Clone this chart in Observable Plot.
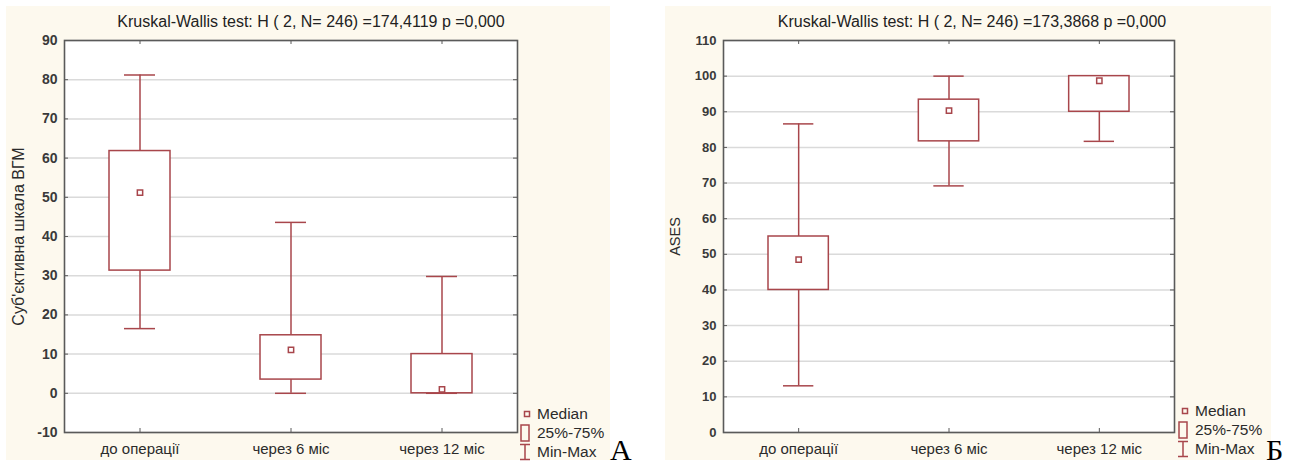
<!DOCTYPE html>
<html><head><meta charset="utf-8">
<script src="https://cdn.jsdelivr.net/npm/d3@7"></script>
<script src="https://cdn.jsdelivr.net/npm/@observablehq/plot@0.6"></script>
<style>
html,body{margin:0;padding:0;background:#fff;width:1300px;height:464px;overflow:hidden;font-family:"Liberation Sans",Arial,sans-serif;}
.bg{position:absolute;background:#fdf9ee;}
.title{position:absolute;font-size:16px;line-height:18px;color:#222;white-space:nowrap;transform:translateX(-50%);}
.leg{position:absolute;font-size:15.5px;line-height:18px;color:#2b2b2b;white-space:nowrap;}
.letter{position:absolute;font-family:"Liberation Serif","DejaVu Serif",serif;font-size:30px;line-height:29px;color:#000;}
</style></head><body>
<div id="root"></div>
<script>
const categories = ["до операції", "через 6 міс", "через 12 міс"];

// Panel А: subjective scale
const minA    = [16.5, 0,    0];
const q1A     = [31.3, 3.5,  0];
const medianA = [51.2, 11.1, 1.0];
const q3A     = [61.8, 14.8, 10];
const maxA    = [81.2, 43.6, 29.8];
const yTicksA = [-10, 0, 10, 20, 30, 40, 50, 60, 70, 80, 90];
const titleA  = "Kruskal-Wallis test: H ( 2, N= 246) =174,4119 p =0,000";
const yLabelA = "Суб'єктивна шкала ВГМ";

// Panel Б: ASES
const minB    = [13.1, 69.2, 81.7];
const q1B     = [40.0, 81.7, 90];
const medianB = [48.5, 90.3, 98.7];
const q3B     = [55.0, 93.4, 100];
const maxB    = [86.6, 100,  100];
const yTicksB = [0, 10, 20, 30, 40, 50, 60, 70, 80, 90, 100, 110];
const titleB  = "Kruskal-Wallis test: H ( 2, N= 246) =173,3868 p =0,000";
const yLabelB = "ASES";

const legendLabels = ["Median", "25%-75%", "Min-Max"];

const RED = "#a8464b";
const root = document.getElementById("root");

function el(cls, style, text) {
  const d = document.createElement("div");
  d.className = cls;
  Object.assign(d.style, style);
  if (text != null) d.textContent = text;
  root.appendChild(d);
  return d;
}

function panel(cfg) {
  el("bg", {left: cfg.bg[0] + "px", top: cfg.bg[1] + "px", width: cfg.bg[2] + "px", height: cfg.bg[3] + "px"});
  const rows = categories.map((c, i) => ({cat: c, min: cfg.min[i], q1: cfg.q1[i], median: cfg.median[i], q3: cfg.q3[i], max: cfg.max[i]}));
  const W = cfg.width - cfg.ml - cfg.mr;
  const H = 464 - cfg.mt - cfg.mb;
  const chart = Plot.plot({
    width: cfg.width, height: 464,
    marginLeft: cfg.ml, marginRight: cfg.mr, marginTop: cfg.mt, marginBottom: cfg.mb,
    style: {background: "transparent", fontFamily: "'Liberation Sans', Arial, sans-serif", overflow: "visible"},
    x: {type: "band", domain: categories, padding: 0, round: false},
    y: {domain: cfg.domain},
    marks: [
      Plot.frame({fill: "white", stroke: "none"}),
      Plot.gridY(cfg.ticks, {stroke: "#dadada", strokeOpacity: 1, strokeWidth: 1.5}),
      Plot.ruleX(rows, {x: "cat", y1: "q3", y2: "max", stroke: RED, strokeWidth: 1.5}),
      Plot.ruleX(rows, {x: "cat", y1: "min", y2: "q1", stroke: RED, strokeWidth: 1.5}),
      Plot.tickY(rows, {x: "cat", y: "max", stroke: RED, strokeWidth: 1.5, insetLeft: 60, insetRight: 60}),
      Plot.tickY(rows, {x: "cat", y: "min", stroke: RED, strokeWidth: 1.5, insetLeft: 60, insetRight: 60}),
      Plot.barY(rows, {x: "cat", y1: "q1", y2: "q3", fill: "white", stroke: RED, strokeWidth: 1.5, insetLeft: 45, insetRight: 45}),
      Plot.dot(rows, {x: "cat", y: "median", symbol: "square", r: 3, stroke: RED, fill: "white", strokeWidth: 1.5}),
      Plot.frame({stroke: "#5a5a5a", strokeWidth: 1.6}),
      Plot.tickY(cfg.ticks, {y: d => d, stroke: "#5a5a5a", insetRight: W - 4}),
      Plot.tickY(cfg.ticks, {y: d => d, stroke: "#5a5a5a", insetLeft: W - 4}),
      Plot.tickX(categories, {x: d => d, stroke: "#5a5a5a", insetBottom: H - 4}),
      Plot.tickX(categories, {x: d => d, stroke: "#5a5a5a", insetTop: H - 4}),
      Plot.axisY(cfg.ticks, {tickSize: 0, tickPadding: 7, tickFormat: d => String(d), fontSize: cfg.yfs, fontWeight: "bold", fill: "#3a3a3a", label: null}),
      Plot.axisX({tickSize: 0, tickPadding: 11, fontSize: 15, fill: "#2b2b2b", label: null}),
      Plot.text([cfg.ylabel], {frameAnchor: "left", textAnchor: "middle", rotate: -90, dx: cfg.ylx, fontSize: cfg.ylfs, fill: "#2b2b2b"})
    ]
  });
  chart.style.position = "absolute";
  chart.style.left = cfg.left + "px";
  chart.style.top = "0px";
  root.appendChild(chart);

  el("title", {left: cfg.titleX + "px", top: "13px"}, cfg.title);

  // legend
  const lx = cfg.legX, ly = cfg.legY;
  const icons = [
    `<svg width="14" height="18" style="position:absolute;left:0;top:0"><rect x="4.5" y="6.5" width="5" height="5" fill="none" stroke="${RED}" stroke-width="1.5"/></svg>`,
    `<svg width="14" height="18" style="position:absolute;left:0;top:0"><rect x="1" y="1" width="8" height="16" fill="none" stroke="${RED}" stroke-width="1.5"/></svg>`,
    `<svg width="14" height="18" style="position:absolute;left:0;top:0"><path d="M0,1.5H10M5,1.5V16.5M0,16.5H10" fill="none" stroke="${RED}" stroke-width="1.5"/></svg>`
  ];
  legendLabels.forEach((lab, i) => {
    const row = el("leg", {left: lx + "px", top: (ly + i * 19) + "px", width: "100px", height: "18px"});
    row.innerHTML = icons[i] + `<span style="position:absolute;left:17px;top:0">${lab}</span>`;
  });
  el("letter", {left: cfg.letterX + "px", top: "435px"}, cfg.letter);
}

panel({
  bg: [6, 6, 604, 454], left: 0, width: 620, ml: 64, mr: 103, mt: 40, mb: 32,
  domain: [-10, 90], ticks: yTicksA, min: minA, q1: q1A, median: medianA, q3: q3A, max: maxA,
  ylabel: yLabelA, ylx: -46, ylfs: 16, yfs: 14, title: titleA, titleX: 311,
  legX: 520, legY: 405, letter: "А", letterX: 610
});
panel({
  bg: [665, 6, 606, 454], left: 650, width: 620, ml: 73, mr: 96, mt: 40, mb: 32,
  domain: [0, 110], ticks: yTicksB, min: minB, q1: q1B, median: medianB, q3: q3B, max: maxB,
  ylabel: yLabelB, ylx: -48, ylfs: 14.5, yfs: 13, title: titleB, titleX: 972,
  legX: 1178, legY: 402, letter: "Б", letterX: 1266
});
</script>
</body></html>
